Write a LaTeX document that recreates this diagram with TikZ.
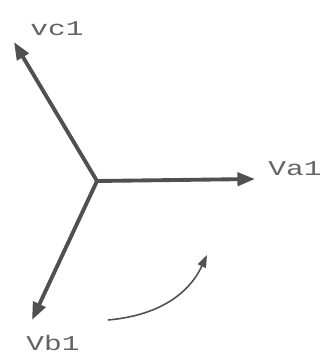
\documentclass[tikz,border=0pt]{standalone}
\usepackage{fontspec}
\setmonofont{Liberation Mono}
\usetikzlibrary{arrows.meta}
\definecolor{pencil}{RGB}{80,80,80}
\definecolor{lbl}{RGB}{100,100,100}
\tikzset{
  phasor/.style={line width=2.2pt,pencil,-{Triangle[length=10pt,width=7.5pt]}},
  plabel/.style={lbl,font=\ttfamily\fontsize{12}{12}\selectfont,xscale=1.4,transform shape}
}
\begin{document}
\begin{tikzpicture}[x=0.02cm,y=0.02cm]
    \useasboundingbox (0,0) rectangle (327,353);
    % Common origin and phasor tips
    \coordinate (o) at (97,172);
    \coordinate (a) at (255,174);
    \coordinate (c) at (14,311);
    \coordinate (b) at (32,33);
    % Phasors
    \draw[phasor] (o) -- (a);
    \draw[phasor] (o) -- (c);
    \draw[phasor] (o) -- (b);
    % Labels
    \node[plabel] (la) at (295,184) {Va1};
    \node[plabel] (lc) at (57,324) {vc1};
    \node[plabel] (lb) at (53,10) {Vb1};
    % Rotation sense
    \coordinate (r1) at (108,33);
    \coordinate (r2) at (207,98);
    \draw[pencil,line width=0.9pt,-{Triangle[length=7pt,width=5pt]}] (r1) to[out=5,in=-115] (r2);
\end{tikzpicture}
\end{document}
